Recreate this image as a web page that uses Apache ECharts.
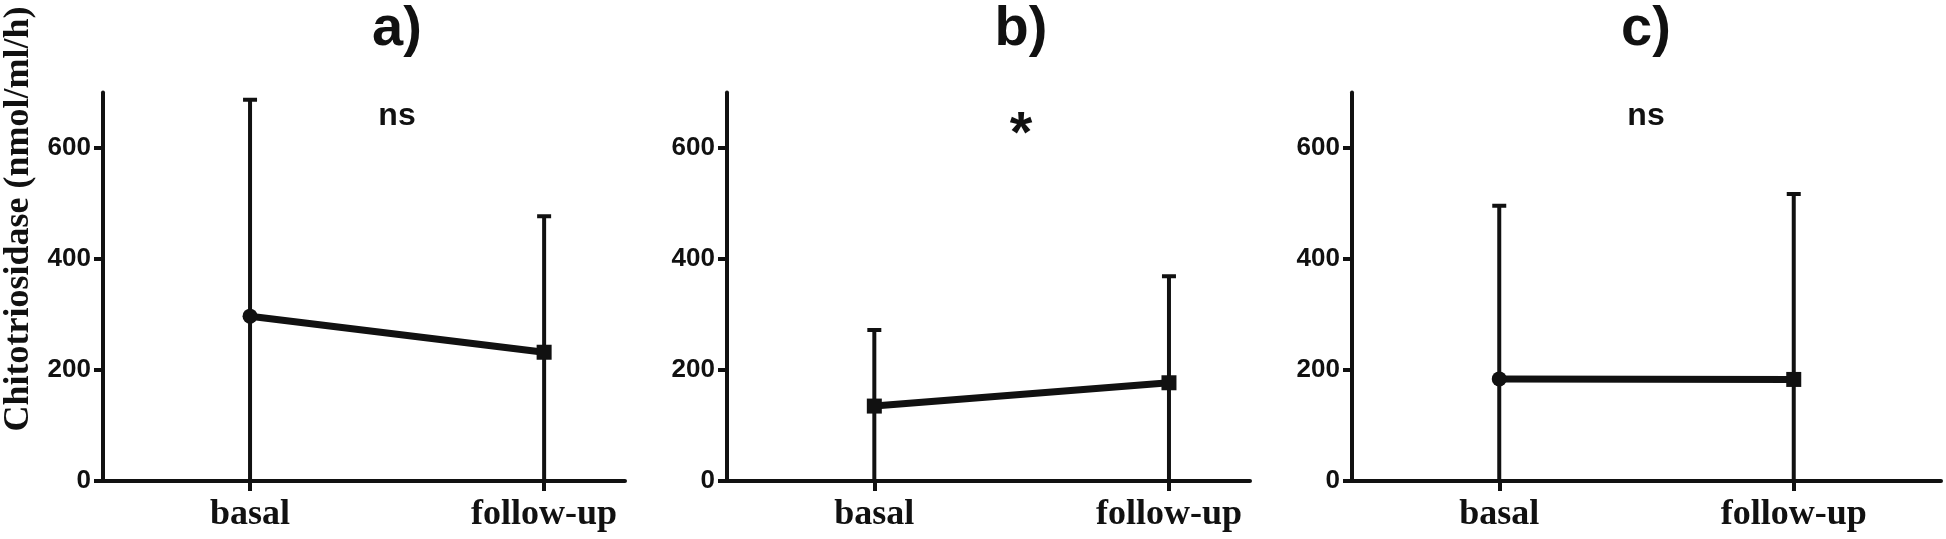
<!DOCTYPE html>
<html>
<head>
<meta charset="utf-8">
<script src="https://cdn.jsdelivr.net/npm/echarts@6/dist/echarts.min.js"></script>
<style>
html,body{margin:0;padding:0;background:#ffffff;}
#chart{width:1946px;height:539px;}
</style>
</head>
<body>
<div id="chart"></div>
<script>
// ---- data ----
const categories = ['basal', 'follow-up'];
const catPos = [1, 3];
const panelTitles = ['a)', 'b)', 'c)'];
const significance = ['ns', '*', 'ns'];
const yTicks = [0, 200, 400, 600];
const yLabel = 'Chitotriosidase (nmol/ml/h)';

const meanA = [297, 232];
const sdA = [390, 245];
const meanB = [135, 177];
const sdB = [137, 192];
const meanC = [184, 183];
const sdC = [312, 334];

const symbolsA = ['circle', 'rect'];
const symbolsB = ['rect', 'rect'];
const symbolsC = ['circle', 'rect'];

// ---- layout ----
const panels = [
  {mean: meanA, sd: sdA, sym: symbolsA, left: 103, width: 522, xMax: 3.55},
  {mean: meanB, sd: sdB, sym: symbolsB, left: 727, width: 523, xMax: 3.55},
  {mean: meanC, sd: sdC, sym: symbolsC, left: 1352, width: 589, xMax: 4.0}
];
const INK = '#111111';
const gridTop = 92.5, gridHeight = 388.5;

const grids = [], xAxes = [], yAxes = [], series = [];
panels.forEach((p, i) => {
  grids.push({left: p.left, top: gridTop, width: p.width, height: gridHeight, containLabel: false});
  xAxes.push({
    type: 'value', gridIndex: i, min: 0, max: p.xMax, interval: 1,
    axisLine: {show: true, onZero: false, lineStyle: {color: INK, width: 4}},
    axisTick: {show: true, customValues: catPos, length: 10, lineStyle: {color: INK, width: 4}},
    axisLabel: {show: true, customValues: catPos, margin: 16,
      formatter: v => categories[catPos.indexOf(v)] || '',
      fontFamily: 'Liberation Serif', fontWeight: 'bold', fontSize: 36, color: INK},
    splitLine: {show: false}
  });
  yAxes.push({
    type: 'value', gridIndex: i, min: 0, max: 700, interval: 100,
    axisLine: {show: true, lineStyle: {color: INK, width: 4}},
    axisTick: {show: true, customValues: yTicks, length: 9, lineStyle: {color: INK, width: 4}},
    axisLabel: {show: true, customValues: yTicks, margin: 12,
      fontFamily: 'Liberation Sans', fontWeight: 'bold', fontSize: 26, color: INK},
    splitLine: {show: false}
  });
  const errData = p.mean.map((m, k) => [catPos[k], m, p.sd[k]]);
  series.push({
    type: 'custom', xAxisIndex: i, yAxisIndex: i, clip: true, z: 2,
    data: errData,
    renderItem: function (params, api) {
      const x = api.value(0), m = api.value(1), s = api.value(2);
      const top = api.coord([x, m + s]);
      const bot = api.coord([x, Math.max(0, m - s)]);
      const hw = 7;
      return {
        type: 'group',
        children: [
          {type: 'line', shape: {x1: top[0], y1: top[1], x2: bot[0], y2: bot[1]},
           style: {stroke: INK, lineWidth: 4}},
          {type: 'line', shape: {x1: top[0] - hw, y1: top[1], x2: top[0] + hw, y2: top[1]},
           style: {stroke: INK, lineWidth: 4}}
        ]
      };
    }
  });
  series.push({
    type: 'line', xAxisIndex: i, yAxisIndex: i, z: 3,
    data: p.mean.map((m, k) => ({value: [catPos[k], m], symbol: p.sym[k]})),
    symbolSize: 15,
    lineStyle: {color: INK, width: 7},
    itemStyle: {color: INK},
    animation: false
  });
});

const graphics = [];
const titleX = [397, 1021, 1646];
panelTitles.forEach((t, i) => {
  graphics.push({type: 'text', x: titleX[i], y: 30,
    style: {text: t, font: 'bold 56px "Liberation Sans"', fill: INK, align: 'center', verticalAlign: 'middle'}});
  const isStar = significance[i] === '*';
  graphics.push({type: 'text', x: titleX[i], y: isStar ? 136 : 116,
    style: {text: significance[i], font: isStar ? 'bold 58px "Liberation Sans"' : 'bold 32px "Liberation Sans"',
      fill: INK, align: 'center', verticalAlign: 'middle'}});
});
graphics.push({type: 'text', x: 19, y: 219, rotation: Math.PI / 2,
  style: {text: yLabel, font: 'bold 36px "Liberation Serif"', fill: INK, align: 'center', verticalAlign: 'middle'}});

const chart = echarts.init(document.getElementById('chart'), null, {renderer: 'canvas'});
chart.setOption({
  backgroundColor: '#ffffff',
  animation: false,
  grid: grids,
  xAxis: xAxes,
  yAxis: yAxes,
  series: series,
  graphic: graphics
});
</script>
</body>
</html>
